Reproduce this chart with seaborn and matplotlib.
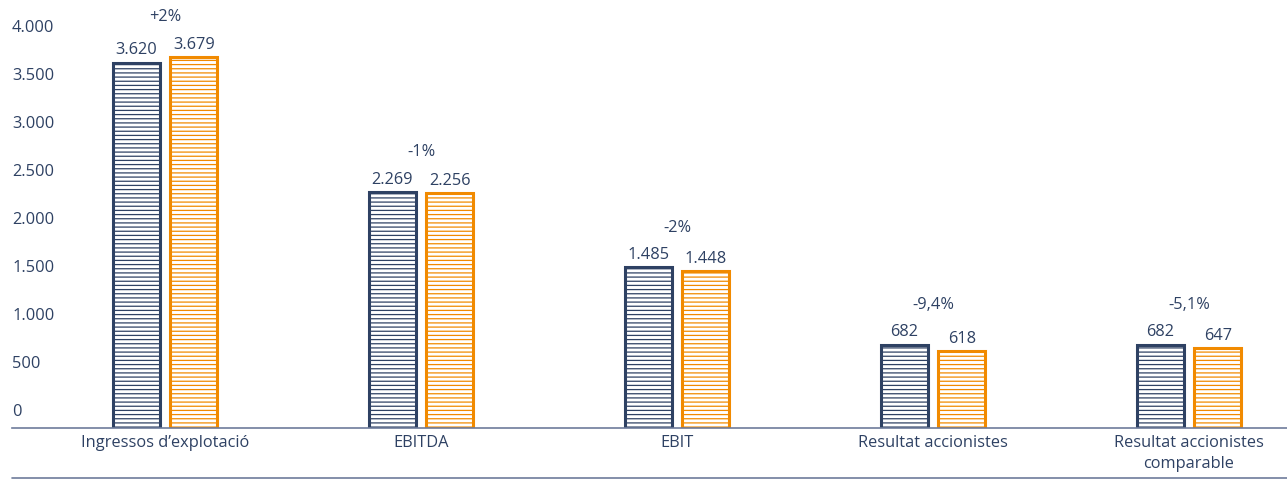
import matplotlib
matplotlib.use("Agg")
import matplotlib.pyplot as plt
from matplotlib.lines import Line2D
import seaborn as sns
import pandas as pd

categories = ["Ingressos d\u2019explotació", "EBITDA", "EBIT", "Resultat accionistes",
              "Resultat accionistes\ncomparable"]
series_names = ["Anterior", "Actual"]
values_prev = [3620, 2269, 1485, 682, 682]
values_curr = [3679, 2256, 1448, 618, 647]
pct_labels = ["+2%", "-1%", "-2%", "-9,4%", "-5,1%"]
yticks = [0, 500, 1000, 1500, 2000, 2500, 3000, 3500, 4000]

NAVY = "#2E4163"
ORANGE = "#F18A00"
LINE = "#6E7C9B"
FS = 11.8

df = pd.DataFrame({
    "cat": categories * 2,
    "serie": [series_names[0]] * 5 + [series_names[1]] * 5,
    "val": values_prev + values_curr,
})

sns.set_theme(style="white")
plt.rcParams["font.family"] = ["Open Sans", "DejaVu Sans"]
plt.rcParams["hatch.linewidth"] = 0.9

W, H = 1287, 479
fig = plt.figure(figsize=(W / 100, H / 100), dpi=100)
ax = fig.add_axes([12 / W, (H - 428) / H, (W - 12) / W, 428 / H])

sns.barplot(data=df, x="cat", y="val", hue="serie", palette=[NAVY, ORANGE],
            width=0.45, gap=0.18, fill=False, linewidth=2.2, legend=False, ax=ax)

ymin, ymax = -187, 4271
ax.set_ylim(ymin, ymax)
ax.set_xlim(-0.598, 4.383)

for p in ax.patches:
    h = p.get_height()
    p.set_y(ymin)
    p.set_height(h - ymin)
    p.set_hatch("----")
    p.set_facecolor("white")

fmt = lambda v: f"{v:,}".replace(",", ".")
for cont, vals in zip(ax.containers, [values_prev, values_curr]):
    for bar, v in zip(cont, vals):
        ax.annotate(fmt(v), (bar.get_x() + bar.get_width() / 2, v),
                    xytext=(0, 3), textcoords="offset points", ha="center", va="bottom",
                    fontsize=FS, color=NAVY)

for i, lab in enumerate(pct_labels):
    top = max(values_prev[i], values_curr[i])
    ax.annotate(lab, (i, top), xytext=(0, 23), textcoords="offset points",
                ha="center", va="bottom", fontsize=FS, color=NAVY)

ax.set_yticks(yticks)
ax.set_yticklabels([fmt(v) for v in yticks], ha="left")
ax.tick_params(axis="y", length=0, pad=0, labelsize=FS, labelcolor=NAVY)
ax.tick_params(axis="x", length=0, pad=5, labelsize=FS, labelcolor=NAVY)
for t in ax.get_xticklabels():
    t.set_linespacing(1.45)
ax.set_xlabel("")
ax.set_ylabel("")
for s in ["top", "right", "left"]:
    ax.spines[s].set_visible(False)
ax.spines["bottom"].set_color(LINE)
ax.spines["bottom"].set_linewidth(1.2)

fig.add_artist(Line2D([12 / W, 1], [1.5 / H, 1.5 / H], color=LINE, linewidth=1.2,
                      transform=fig.transFigure))

fig.savefig("out.png", dpi=100, facecolor="white")
